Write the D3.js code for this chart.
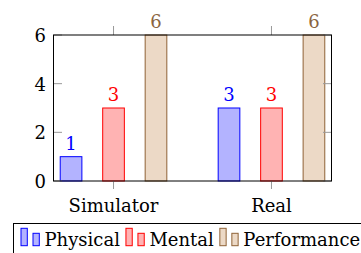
<!DOCTYPE html>
<html><head><meta charset="utf-8">
<script src="https://cdn.jsdelivr.net/npm/d3@7"></script>
<style>body{margin:0;background:#fff}svg{display:block}</style>
</head><body><svg id="c" width="361" height="253"></svg>
<script>
const categories = ["Simulator", "Real"];
const seriesNames = ["Physical", "Mental", "Performance"];
const physical = [1, 3];
const mental = [3, 3];
const performance = [6, 6];
const yTicks = [0, 2, 4, 6];

const fills = ["#b3b3ff", "#ffb3b3", "#ecd9c6"];
const strokes = ["#0000ff", "#ff0000", "#8f6236"];
const labelColors = ["#0000ff", "#ff0000", "#8a6440"];
const seriesVals = [physical, mental, performance];

const FONT = "DejaVu Serif";
const svg = d3.select("#c").style("font-family", FONT);
const L = 53.5, R = 331.5, T = 35, B = 181;
const FS = 18;

const x = d3.scalePoint().domain(categories).range([L, R]).padding(0.38);
const xs = d3.scaleBand().domain(seriesNames).range([-53.3, 53.3]).paddingInner(0.49);
const y = d3.scaleLinear().domain([0, 6]).range([B, T]);

seriesNames.forEach((s, si) => {
  const data = categories.map((c, ci) => ({c, v: seriesVals[si][ci]}));
  svg.append("g").selectAll("rect").data(data).join("rect")
    .attr("x", d => x(d.c) + xs(s))
    .attr("y", d => y(d.v))
    .attr("width", xs.bandwidth())
    .attr("height", d => y(0) - y(d.v))
    .attr("fill", fills[si]).attr("stroke", strokes[si]).attr("stroke-width", 1);
  svg.append("g").selectAll("text").data(data).join("text")
    .attr("x", d => x(d.c) + xs(s) + xs.bandwidth() / 2)
    .attr("y", d => y(d.v) - 7)
    .attr("text-anchor", "middle")
    .attr("font-size", FS).attr("fill", labelColors[si])
    .text(d => d.v);
});

const tg = svg.append("g").attr("stroke", "#999").attr("stroke-width", 1);
yTicks.forEach(t => {
  tg.append("line").attr("x1", L).attr("x2", L + 8.5).attr("y1", y(t)).attr("y2", y(t));
  tg.append("line").attr("x1", R - 8.5).attr("x2", R).attr("y1", y(t)).attr("y2", y(t));
});
categories.forEach(c => {
  tg.append("line").attr("x1", x(c)).attr("x2", x(c)).attr("y1", T - 9).attr("y2", T);
  tg.append("line").attr("x1", x(c)).attr("x2", x(c)).attr("y1", B).attr("y2", B + 8);
});

svg.append("rect").attr("x", L).attr("y", T).attr("width", R - L).attr("height", B - T)
  .attr("fill", "none").attr("stroke", "#000").attr("stroke-width", 1);

svg.append("g").selectAll("text").data(yTicks).join("text")
  .attr("x", 46).attr("y", d => y(d) + 7).attr("text-anchor", "end")
  .attr("font-size", FS).attr("fill", "#000").text(d => d);
svg.append("g").selectAll("text").data(categories).join("text")
  .attr("x", d => x(d)).attr("y", 211.7).attr("text-anchor", "middle")
  .attr("font-size", FS).attr("fill", "#000").text(d => d);

svg.append("rect").attr("x", 13.5).attr("y", 223.5).attr("width", 400).attr("height", 60)
  .attr("fill", "#fff").attr("stroke", "#000").attr("stroke-width", 1);
let lx = 21;
const lb = 245.7;
seriesNames.forEach((s, si) => {
  const g = svg.append("g");
  g.append("rect").attr("x", lx).attr("y", lb - 17.4).attr("width", 6.3).attr("height", 17.4)
    .attr("fill", fills[si]).attr("stroke", strokes[si]);
  g.append("rect").attr("x", lx + 12).attr("y", lb - 12.4).attr("width", 6.3).attr("height", 12.4)
    .attr("fill", fills[si]).attr("stroke", strokes[si]);
  const t = g.append("text").attr("x", lx + 23.5).attr("y", lb).attr("font-size", FS)
    .attr("fill", "#000").text(s);
  lx = lx + 23.5 + t.node().getComputedTextLength() + 6;
});
</script></body></html>
